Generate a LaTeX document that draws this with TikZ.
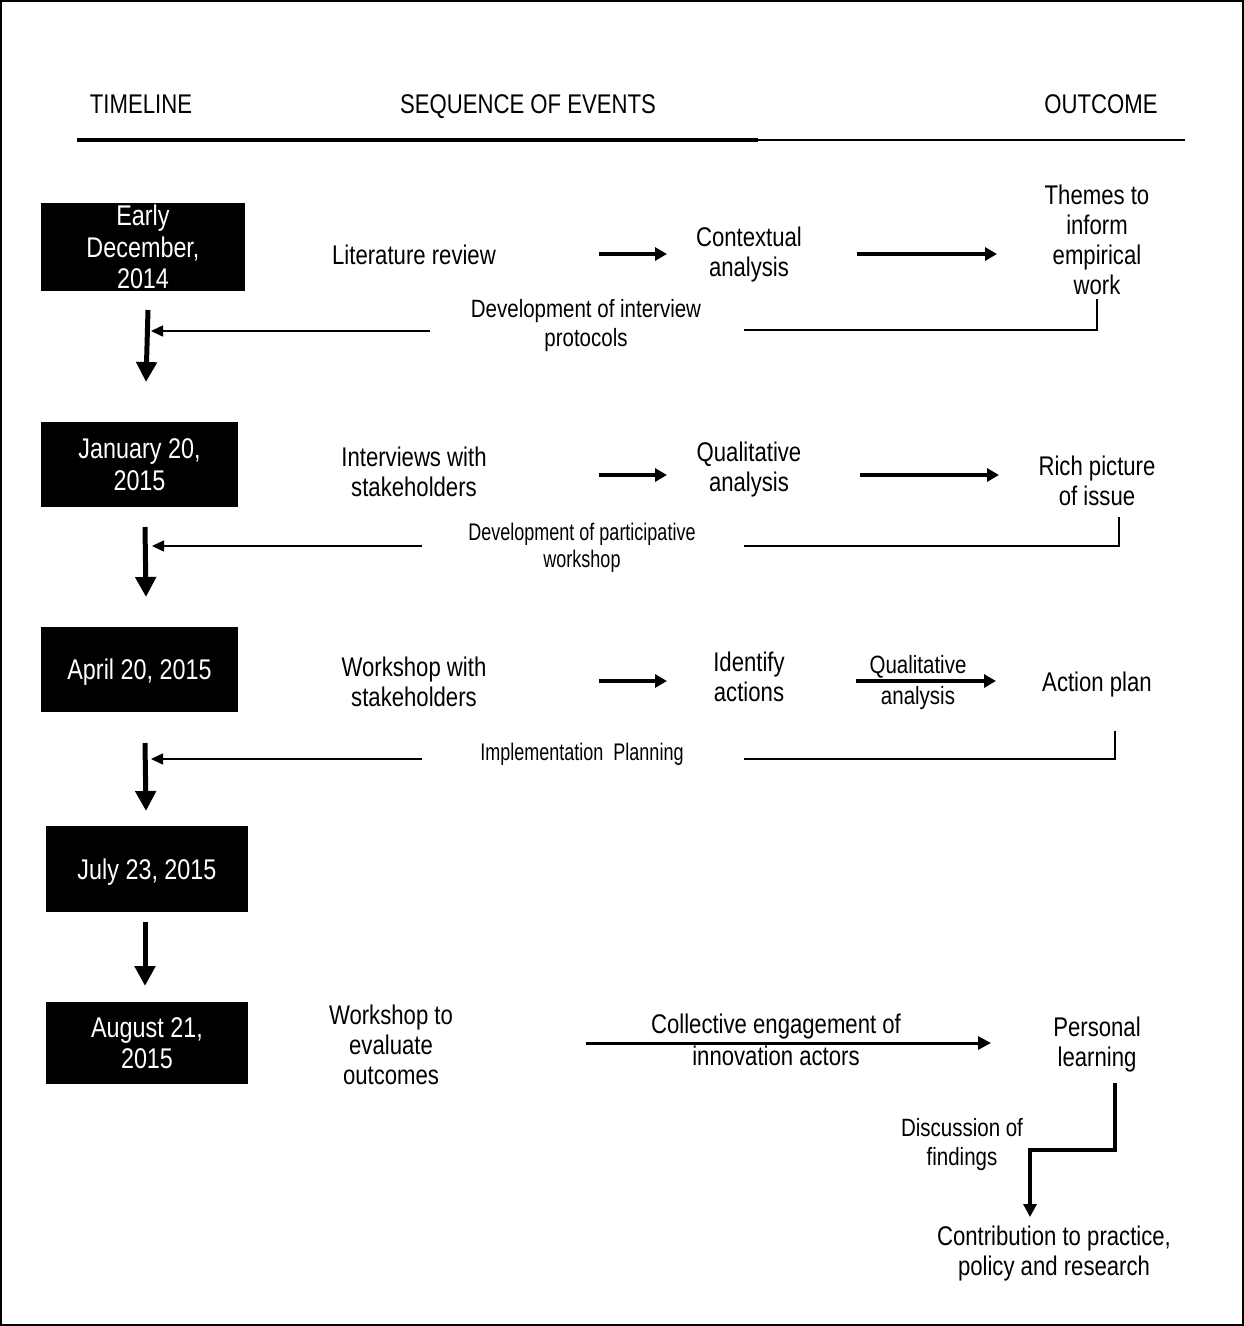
\documentclass[tikz,border=0pt]{standalone}
\usepackage{fontspec}
\setmainfont{Liberation Sans}
\newfontfamily\narrowsans[FakeStretch=0.82]{Liberation Sans}
\newfontfamily\narrowersans[FakeStretch=0.75]{Liberation Sans}
\usetikzlibrary{arrows.meta}

\tikzset{
  datebox/.style={fill=black, text=white, inner sep=0pt, align=center,
    font=\narrowsans\fontsize{28.5}{31.5}\selectfont},
  lbl/.style={inner sep=0pt, align=center, font=\narrowsans\fontsize{27}{30}\selectfont},
  lblmid/.style={inner sep=0pt, align=center, font=\narrowsans\fontsize{25}{29}\selectfont},
  lblsmall/.style={inner sep=0pt, align=center, font=\narrowersans\fontsize{24}{27}\selectfont},
  timearrow/.style={line width=5pt, -{Triangle[width=20pt,length=20pt]}},
  feedarrow/.style={line width=1.5pt, -{Triangle[width=11pt,length=12pt]}},
  returnline/.style={line width=1.5pt},
  flowarrow/.style={line width=3.5pt, -{Triangle[width=13pt,length=12pt]}},
  longarrow/.style={line width=3pt, -{Triangle[width=13pt,length=13pt]}},
  steparrow/.style={line width=4.5pt, -{Triangle[width=13pt,length=13pt]}},
}

\begin{document}
\begin{tikzpicture}[x=1pt, y=-1pt]
\useasboundingbox (0,0) rectangle (1244,1326);
% outer frame
\draw[line width=2pt] (1,1) rectangle (1243,1325);

% column headings
\node[lbl] (hTime) at (141,104) {TIMELINE};
\node[lbl] (hSeq) at (528,107) {SEQUENCE OF EVENTS};
\node[lbl] (hOut) at (1101,104) {OUTCOME};
\coordinate (rule0) at (77,140);
\coordinate (rule1) at (758,140);
\coordinate (rule2) at (1185,140);
\draw[line width=4pt] (rule0) -- (rule1);
\draw[line width=2.5pt] (rule1) -- (rule2);

% timeline boxes
\node[datebox, minimum width=204pt, minimum height=88pt] (d1) at (143,247) {Early\\December,\\2014};
\node[datebox, minimum width=197pt, minimum height=85pt] (d2) at (139.5,464.5) {January 20,\\2015};
\node[datebox, minimum width=197pt, minimum height=85pt, text depth=0pt] (d3) at (139.5,669.5) {April 20, 2015};
\node[datebox, minimum width=202pt, minimum height=86pt, text depth=0pt] (d4) at (147,869) {July 23, 2015};
\node[datebox, minimum width=202pt, minimum height=82pt] (d5) at (147,1043) {August 21,\\2015};

% timeline arrows
\coordinate (t1a) at (148,310); \coordinate (t1b) at (146,382);
\coordinate (t2a) at (145,527); \coordinate (t2b) at (146,597);
\coordinate (t3a) at (145,743); \coordinate (t3b) at (146,811);
\coordinate (t4a) at (145,922); \coordinate (t4b) at (145,986);
\draw[timearrow] (t1a) -- (t1b);
\draw[timearrow] (t2a) -- (t2b);
\draw[timearrow] (t3a) -- (t3b);
\draw[timearrow] (t4a) -- (t4b);

% ---- row 1
\node[lbl] (lit) at (414,255) {Literature review};
\node[lbl] (ctx) at (749,255) {Contextual\\analysis};
\node[lbl] (thm) at (1097,240) {Themes to\\inform\\empirical\\work};
\node[lblmid] (dev1) at (586,326) {Development of interview\\protocols};
\coordinate (r1a) at (599,254); \coordinate (r1b) at (667,254);
\coordinate (r1c) at (857,254); \coordinate (r1d) at (997,254);
\draw[flowarrow] (r1a) -- (r1b);
\draw[flowarrow] (r1c) -- (r1d);
\coordinate (f1a) at (1097,299); \coordinate (f1b) at (744,330);
\draw[returnline] (f1a) |- (f1b);
\coordinate (f1c) at (430,331); \coordinate (f1d) at (151,331);
\draw[feedarrow] (f1c) -- (f1d);

% ---- row 2
\node[lbl] (int) at (414,472) {Interviews with\\stakeholders};
\node[lbl] (qa) at (749,470) {Qualitative\\analysis};
\node[lbl] (rich) at (1097,481) {Rich picture\\of issue};
\node[lblsmall] (dev2) at (582,548) {Development of participative\\workshop};
\coordinate (r2a) at (599,475); \coordinate (r2b) at (667,475);
\coordinate (r2c) at (860,475); \coordinate (r2d) at (999,475);
\draw[flowarrow] (r2a) -- (r2b);
\draw[flowarrow] (r2c) -- (r2d);
\coordinate (f2a) at (1119,517); \coordinate (f2b) at (744,546);
\draw[returnline] (f2a) |- (f2b);
\coordinate (f2c) at (422,546); \coordinate (f2d) at (152,546);
\draw[feedarrow] (f2c) -- (f2d);

% ---- row 3
\node[lbl] (wsh) at (414,682) {Workshop with\\stakeholders};
\node[lbl] (ida) at (749,677) {Identify\\actions};
\node[lbl] (ap) at (1097,685) {Action plan};
\node[lblmid] (qa2a) at (918,667) {Qualitative};
\node[lblmid] (qa2b) at (918,698) {analysis};
\node[lblsmall] (impl) at (582,754) {Implementation\ \ Planning};
\coordinate (r3a) at (599,681); \coordinate (r3b) at (667,681);
\coordinate (r3c) at (856,681); \coordinate (r3d) at (996,681);
\draw[flowarrow] (r3a) -- (r3b);
\draw[flowarrow] (r3c) -- (r3d);
\coordinate (f3a) at (1115,731); \coordinate (f3b) at (744,759);
\draw[returnline] (f3a) |- (f3b);
\coordinate (f3c) at (422,759); \coordinate (f3d) at (151,759);
\draw[feedarrow] (f3c) -- (f3d);

% ---- row 5
\node[lbl] (wte) at (391,1045) {Workshop to\\evaluate\\outcomes};
\node[lbl] (pl) at (1097,1045) {Personal\\learning};
\node[lbl] (ce1) at (776,1027) {Collective engagement of};
\node[lbl] (ce2) at (776,1056) {innovation actors};
\coordinate (r5a) at (586,1043); \coordinate (r5b) at (991,1043);
\draw[longarrow] (r5a) -- (r5b);

% final step to contribution
\node[lblmid] (disc) at (962,1145) {Discussion of\\findings};
\node[lbl] (contr) at (1054,1254) {Contribution to practice,\\policy and research};
\coordinate (s1) at (1115,1083); \coordinate (s2) at (1115,1150);
\coordinate (s3) at (1030,1150); \coordinate (s4) at (1030,1217);
\draw[steparrow] (s1) -- (s2) -- (s3) -- (s4);
\end{tikzpicture}
\end{document}
